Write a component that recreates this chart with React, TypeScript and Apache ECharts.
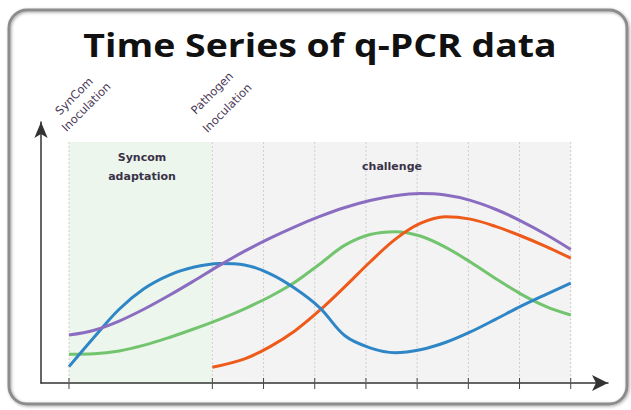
import React, { useEffect, useRef } from "react";
import * as echarts from "echarts";

// x: days (0 = SynCom inoculation, 14 = pathogen inoculation); y: relative abundance
const tickPositions = [0, 14, 19, 24, 29, 34, 39, 44, 49];
const phases = [[0, 14], [14, 49]];
const phaseTop = 100;

const days = [
  0, 2.45, 4.9, 7.35, 9.8, 12.25, 14.7, 17.15, 19.6, 22.05, 24.5, 26.95, 29.4, 31.85,
  34.3, 36.75, 39.2, 41.65, 44.1, 46.55, 49,
];
const blueValues = [
  6.8, 19.0, 30.6, 39.2, 44.8, 48.1, 49.6, 49.0, 45.4, 39.3, 31.2, 19.6, 14.6, 12.6,
  13.8, 16.8, 21.2, 26.4, 31.8, 36.7, 41.4,
];
const purpleValues = [
  19.9, 21.9, 25.7, 30.7, 36.4, 42.5, 48.8, 54.7, 60.0, 64.8, 69.1, 72.8, 75.7, 77.7,
  78.6, 78.0, 75.8, 72.1, 67.3, 61.7, 55.4,
];
const greenValues = [
  11.9, 12.1, 13.3, 15.7, 18.9, 22.5, 26.4, 30.8, 35.8, 41.8, 49.4, 57.2, 61.6, 62.8,
  61.0, 56.4, 50.2, 43.4, 37.0, 31.8, 28.2,
];
const orangeDays = [14, 17.15, 19.6, 22.05, 24.5, 26.95, 29.4, 31.85, 34.3, 36.75, 39.2, 41.65, 44.1, 46.55, 49];
const orangeValues = [6.5, 10.0, 15.0, 21.6, 30.2, 40.0, 50.2, 59.6, 66.2, 69.0, 68.0, 65.0, 61.1, 56.7, 51.8];

const titleText = "Time Series of q-PCR data";
const phaseLabels = ["Syncom\nadaptation", "challenge"];
const eventLabels = [["SynCom", "Inoculation"], ["Pathogen", "Inoculation"]];

export default function App() {
  const ref = useRef<HTMLDivElement>(null);
  useEffect(() => {
    document.body.style.margin = "0";
    const chart = echarts.init(ref.current!, null, { renderer: "svg" });
    const phaseColors = ["#edf6ec", "#f3f3f3"];
    const zip = (xs: number[], ys: number[]) => xs.map((x, i) => [x, ys[i]]);
    const lineSeries = (data: number[][], color: string) => ({
      type: "line",
      data,
      smooth: 0.35,
      showSymbol: false,
      z: 3,
      lineStyle: { color, width: 3 },
      itemStyle: { color },
    });
    const eventPos = [
      [{ x: 74, y: 96 }, { x: 86, y: 107 }],
      [{ x: 212, y: 93 }, { x: 227, y: 108 }],
    ];
    const eventTexts: any[] = [];
    eventLabels.forEach((lines, i) =>
      lines.forEach((t, j) =>
        eventTexts.push({
          type: "text",
          x: eventPos[i][j].x,
          y: eventPos[i][j].y,
          rotation: Math.PI / 4,
          style: {
            text: t,
            font: "11.5px 'DejaVu Sans'",
            fill: "#4a3a58",
            align: "center",
            verticalAlign: "middle",
          },
        })
      )
    );
    chart.setOption({
      animation: false,
      backgroundColor: "#ffffff",
      grid: { left: 41, right: 23, top: 122, bottom: 27 },
      xAxis: {
        type: "value",
        min: -2.734,
        max: 52.64,
        splitLine: { show: false },
        axisTick: { show: false },
        axisLabel: { show: false },
        axisLine: {
          show: true,
          onZero: false,
          symbol: ["none", "arrow"],
          symbolSize: [12, 16],
          lineStyle: { color: "#333", width: 1.5 },
        },
      },
      yAxis: {
        type: "value",
        min: 0,
        max: 108.3,
        splitLine: { show: false },
        axisTick: { show: false },
        axisLabel: { show: false },
        axisLine: {
          show: true,
          onZero: false,
          symbol: ["none", "arrow"],
          symbolSize: [10, 16],
          lineStyle: { color: "#333", width: 1.5 },
        },
      },
      graphic: [
        {
          type: "rect",
          shape: { x: 9, y: 10, width: 618, height: 394, r: 18 },
          style: {
            fill: "none",
            stroke: "#8c8c8c",
            lineWidth: 3,
            shadowBlur: 3,
            shadowColor: "rgba(0,0,0,0.35)",
            shadowOffsetX: 1,
            shadowOffsetY: 1,
          },
          z: 100,
        },
        {
          type: "text",
          x: 320,
          y: 45,
          scaleX: 1.17,
          style: {
            text: titleText,
            font: "bold 32px 'Open Sans'",
            fill: "#111",
            align: "center",
            verticalAlign: "middle",
          },
        },
        ...eventTexts,
        {
          type: "text",
          x: 142,
          y: 167,
          z: 50,
          style: {
            text: phaseLabels[0],
            font: "bold 11px 'DejaVu Sans'",
            lineHeight: 19,
            fill: "#3a3248",
            align: "center",
            verticalAlign: "middle",
          },
        },
        {
          type: "text",
          x: 392,
          y: 166,
          z: 50,
          style: {
            text: phaseLabels[1],
            font: "bold 11px 'DejaVu Sans'",
            fill: "#3a3248",
            align: "center",
            verticalAlign: "middle",
          },
        },
      ],
      series: [
        {
          type: "custom",
          z: 0,
          silent: true,
          data: phases.map((p, i) => [p[0], p[1], i]),
          encode: { x: [0, 1] },
          renderItem: (params: any, api: any) => {
            const a = api.coord([api.value(0), phaseTop]);
            const b = api.coord([api.value(1), 0]);
            return {
              type: "rect",
              shape: { x: a[0], y: a[1], width: b[0] - a[0], height: b[1] - a[1] },
              style: { fill: phaseColors[api.value(2)] },
            };
          },
        },
        {
          type: "custom",
          z: 1,
          silent: true,
          data: tickPositions.map((v) => [v, 0]),
          encode: { x: 0, y: 1 },
          renderItem: (params: any, api: any) => {
            const x = api.value(0);
            const top = api.coord([x, phaseTop]);
            const bot = api.coord([x, 0]);
            return {
              type: "group",
              children: [
                {
                  type: "line",
                  shape: { x1: top[0], y1: top[1], x2: bot[0], y2: bot[1] },
                  style: { stroke: "#cfcfcf", lineWidth: 1, lineDash: [2, 2] },
                },
                {
                  type: "line",
                  shape: { x1: bot[0], y1: bot[1] - 5, x2: bot[0], y2: bot[1] + 6 },
                  style: { stroke: "#444", lineWidth: 1 },
                },
              ],
            };
          },
        },
        lineSeries(zip(days, greenValues), "#72c46e"),
        lineSeries(zip(orangeDays, orangeValues), "#ee5a1a"),
        lineSeries(zip(days, blueValues), "#2f86c6"),
        lineSeries(zip(days, purpleValues), "#8a6dc1"),
      ],
    });
    return () => chart.dispose();
  }, []);
  return <div ref={ref} style={{ width: 631, height: 410 }} />;
}
